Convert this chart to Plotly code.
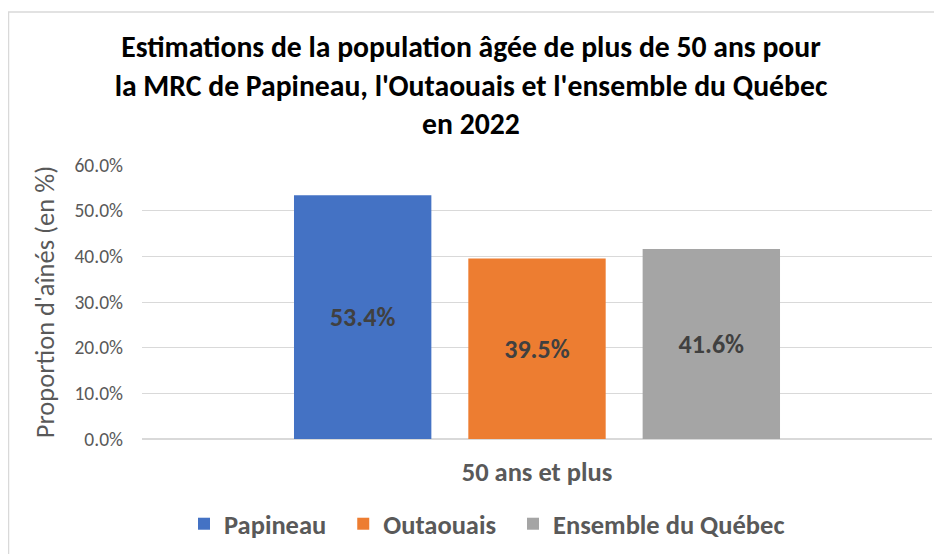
import plotly.graph_objects as go

categories = ["50 ans et plus"]
series_names = ["Papineau", "Outaouais", "Ensemble du Québec"]
legend_pad = ["  ", "  ", ""]
series_values = [[53.4], [39.5], [41.6]]
series_colors = ["#4472C4", "#ED7D31", "#A5A5A5"]
y_ticks = [0, 10, 20, 30, 40, 50, 60]

FONT = "Carlito, Lato, 'Open Sans', sans-serif"

# page has an 8px body margin; margins compensate
L, T, PW, PH = 134, 157, 790, 274

fig = go.Figure()
for name, pad, vals, col in zip(series_names, legend_pad, series_values, series_colors):
    fig.add_trace(go.Bar(
        x=categories, y=vals, name=name + pad, marker_color=col, marker_line_width=0,
        text=[f"{v:.1f}%" for v in vals], textposition="inside",
        insidetextanchor="middle",
        textfont=dict(family=FONT, size=26, color="#404040", weight="bold"),
    ))

fig.update_layout(
    width=942, height=554,
    margin=dict(l=L, r=942 - L - PW, t=T, b=554 - T - PH, autoexpand=False),
    paper_bgcolor="white", plot_bgcolor="white",
    barmode="group", bargap=0.338, bargroupgap=0.212,
    title=dict(
        text="Estimations de la population âgée de plus de 50 ans pour<br>la MRC de Papineau, l'Outaouais et l'ensemble du Québec<br>en 2022",
        x=463 / 942, xanchor="center", xref="container", y=1 - 49 / 554, yanchor="top", yref="container",
        font=dict(family=FONT, size=29.7, color="#000000", weight="bold"),
    ),
    font=dict(family=FONT, color="#595959"),
    showlegend=True,
    legend=dict(orientation="h", xref="paper", x=(479 - L) / PW, xanchor="center",
                y=(431 - 516) / PH, yanchor="middle",
                font=dict(family=FONT, size=26.5, color="#595959", weight="bold"),
                traceorder="normal"),
    uniformtext=dict(mode=False),
)
fig.update_yaxes(
    range=[0, 60], tickvals=y_ticks, ticktext=[f"{t:.1f}%" for t in y_ticks],
    showgrid=True, gridcolor="#D9D9D9", gridwidth=1, zeroline=True, zerolinecolor="#D9D9D9",
    showline=False, tickfont=dict(family=FONT, size=19.5, color="#595959"), ticks="",
    ticklabelstandoff=18,
    title=dict(text="Proportion d'aînés (en %)", font=dict(family=FONT, size=26.5, color="#595959"), standoff=12),
)
fig.update_xaxes(
    showline=False, ticks="", tickfont=dict(family=FONT, size=26.5, color="#595959", weight="bold"),
    ticklabelstandoff=14,
)
fig.add_shape(type="rect", xref="paper", yref="paper",
              x0=(0.5 - L) / PW, x1=(942 - L) / PW,
              y0=(T + PH - 600) / PH, y1=(T + PH - 4) / PH,
              line=dict(color="#D9D9D9", width=1.5), fillcolor="rgba(0,0,0,0)", layer="below")

fig.write_html("out.html")
